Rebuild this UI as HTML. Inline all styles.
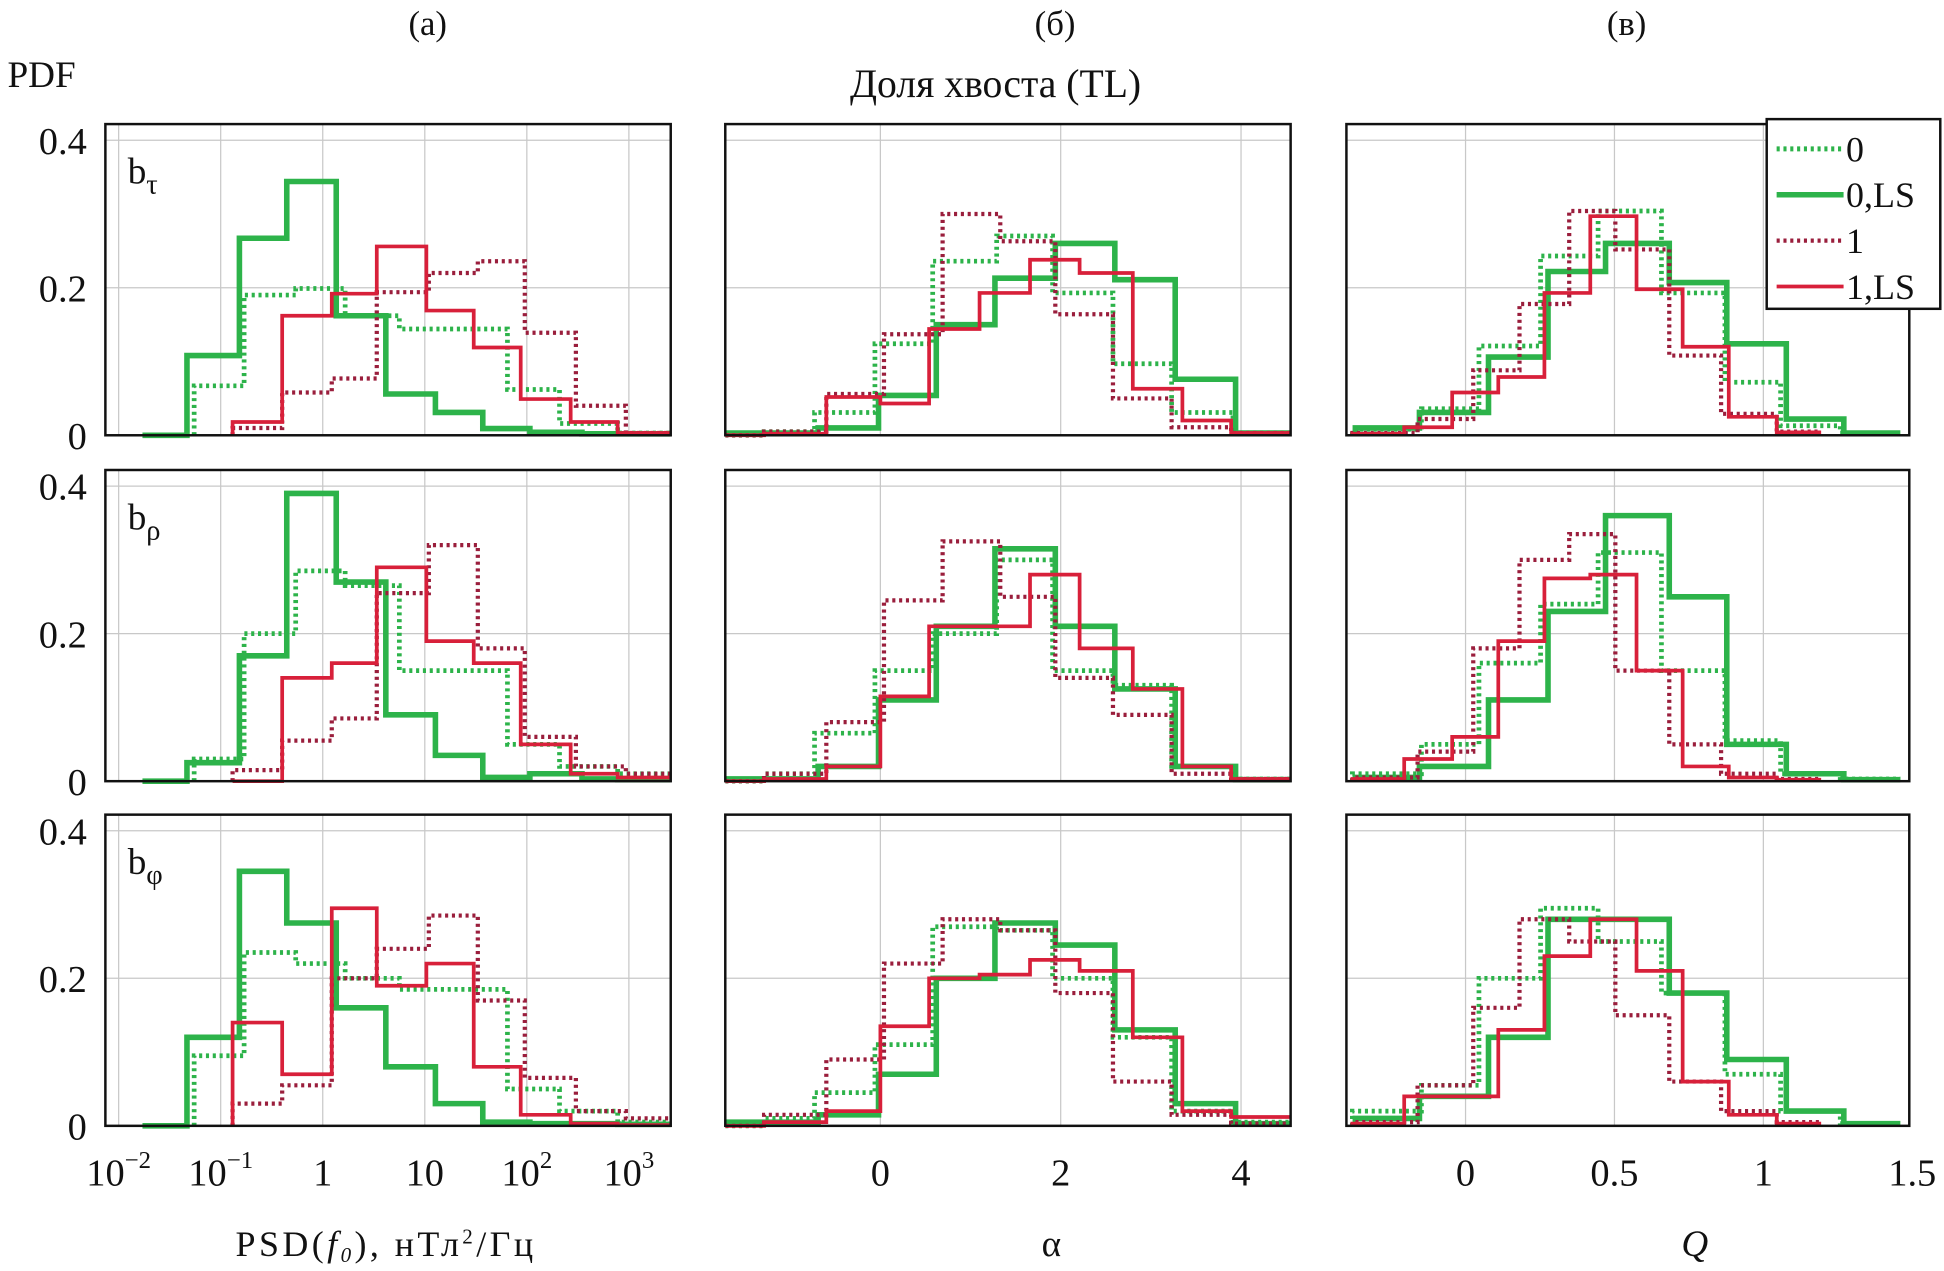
<!DOCTYPE html>
<html><head><meta charset="utf-8"><style>
html,body{margin:0;padding:0;background:#fff}
svg{display:block}
text{font-family:"Liberation Serif","DejaVu Serif",serif;fill:#111}
</style></head><body>
<svg id="chart" width="1944" height="1271" viewBox="0 0 1568 1025" xmlns="http://www.w3.org/2000/svg">
<text x="345" y="28" font-size="28" text-anchor="middle">(а)</text>
<text x="851" y="28" font-size="28" text-anchor="middle">(б)</text>
<text x="1312" y="28" font-size="28" text-anchor="middle">(в)</text>
<text x="6" y="70" font-size="30">PDF</text>
<text x="803" y="78" font-size="32" text-anchor="middle">Доля хвоста (TL)</text>
<text x="310" y="1013" font-size="29" text-anchor="middle" textLength="240" lengthAdjust="spacing">PSD(<tspan font-style="italic">f</tspan><tspan font-size="17" dy="5" font-style="italic">0</tspan><tspan dy="-5">), нТл</tspan><tspan font-size="17" dy="-10">2</tspan><tspan dy="10">/Гц</tspan></text>
<text x="848" y="1013" font-size="30" text-anchor="middle">α</text>
<text x="1367" y="1013" font-size="30" font-style="italic" text-anchor="middle">Q</text>
<g id="panels"></g>
<g id="legend">
<rect x="1425" y="96" width="140" height="153" fill="#fff" stroke="#111" stroke-width="2"/>
<line x1="1433" y1="120" x2="1487" y2="120" stroke="#2db34a" stroke-width="4" stroke-dasharray="2.5 3"/>
<text x="1489" y="130" font-size="29">0</text>
<line x1="1433" y1="157" x2="1487" y2="157" stroke="#2db34a" stroke-width="4.5"/>
<text x="1489" y="167" font-size="29">0,LS</text>
<line x1="1433" y1="194" x2="1487" y2="194" stroke="#9a1e3c" stroke-width="3.5" stroke-dasharray="2.5 3"/>
<text x="1489" y="204" font-size="29">1</text>
<line x1="1433" y1="231" x2="1487" y2="231" stroke="#d8203a" stroke-width="3"/>
<text x="1489" y="241" font-size="29">1,LS</text>
</g>
</svg>
<script>
// ---- data: bin edges (data units; log10 for PSD column) and PDF values ----
const aEdgesGS=[-1.767,-1.33,-0.817,-0.353,0.132,0.618,1.104,1.568,2.03,2.54,2.89,3.41];
const aEdgesGD=[-1.26,-0.77,-0.265,0.22,0.75,1.81,2.32,2.89,3.41];
const aEdgesRS=[-0.883,-0.398,0.088,0.53,1.016,1.48,1.94,2.43,2.89,3.42];
const aEdgesRD=[-0.883,-0.398,0.088,0.53,1.04,1.52,1.98,2.48,2.97,3.42];
const bEdgesGS=[-1.72,-0.69,-0.02,0.62,1.27,1.94,2.6,3.27,3.94,4.55];
const bEdgesGD=[-1.72,-1.29,-0.73,-0.06,0.58,1.29,1.91,2.58,3.23,3.91,4.55];
const bEdgesRS=[-1.72,-1.29,-0.6,0,0.54,1.1,1.66,2.21,2.8,3.35,3.89,4.55];
const bEdgesRD=[-1.72,-1.29,-0.6,0.04,0.69,1.33,1.94,2.58,3.23,3.89,4.55];
const cEdgesGS=[-0.37,-0.155,0.077,0.277,0.47,0.684,0.877,1.077,1.27,1.46];
const cEdgesGD=[-0.38,-0.148,0.045,0.252,0.445,0.658,0.871,1.058,1.258,1.46];
const cEdgesRS=[-0.38,-0.206,-0.045,0.11,0.265,0.419,0.574,0.729,0.884,1.045,1.194];
const cEdgesRD=[-0.38,-0.161,0.026,0.181,0.348,0.503,0.684,0.858,1.045,1.194];

const a1GS=[0,0.108,0.267,0.344,0.162,0.056,0.031,0.009,0.004,0.002,0.002];
const a1GD=[0.067,0.19,0.199,0.162,0.144,0.062,0.016,0.003];
const a1RS=[0.018,0.162,0.192,0.256,0.169,0.119,0.049,0.018,0.003];
const a1RD=[0.01,0.058,0.077,0.194,0.22,0.236,0.139,0.04,0.003];
const a2GS=[0,0.025,0.17,0.39,0.27,0.09,0.035,0.005,0.01,0.003,0.002];
const a2GD=[0.03,0.2,0.285,0.265,0.15,0.05,0.02,0.01];
const a2RS=[0,0.14,0.16,0.29,0.19,0.16,0.05,0.01,0.005];
const a2RD=[0.015,0.055,0.085,0.255,0.32,0.18,0.06,0.02,0.01];
const a3GS=[0,0.12,0.345,0.275,0.16,0.08,0.03,0.005,0.003,0.003,0.002];
const a3GD=[0.095,0.235,0.22,0.2,0.185,0.05,0.02,0.005];
const a3RS=[0.14,0.07,0.295,0.19,0.22,0.08,0.015,0.003,0.001];
const a3RD=[0.03,0.055,0.2,0.24,0.285,0.17,0.065,0.02,0.01];

const b1GS=[0.003,0.01,0.054,0.15,0.213,0.26,0.211,0.076,0.003];
const b1GD=[0,0.005,0.031,0.124,0.236,0.27,0.193,0.097,0.031,0.003];
const b1RS=[0,0.002,0.052,0.043,0.144,0.193,0.238,0.22,0.063,0.02,0.003];
const b1RD=[0,0.005,0.056,0.137,0.30,0.263,0.164,0.05,0.011,0.003];
const b2GS=[0.003,0.02,0.11,0.21,0.315,0.21,0.125,0.02,0.002];
const b2GD=[0,0.01,0.065,0.15,0.2,0.3,0.15,0.13,0.02,0.003];
const b2RS=[0,0.003,0.02,0.115,0.21,0.21,0.28,0.18,0.125,0.02,0.003];
const b2RD=[0,0.01,0.08,0.245,0.325,0.25,0.14,0.09,0.01,0.003];
const b3GS=[0.005,0.015,0.07,0.2,0.275,0.245,0.13,0.03,0.003];
const b3GD=[0,0.01,0.045,0.11,0.27,0.265,0.2,0.12,0.02,0.005];
const b3RS=[0,0.005,0.02,0.135,0.2,0.205,0.225,0.21,0.12,0.02,0.012];
const b3RD=[0,0.015,0.09,0.22,0.28,0.265,0.18,0.06,0.015,0.003];

const c1GS=[0.01,0.031,0.106,0.222,0.26,0.207,0.124,0.022,0.003];
const c1GD=[0.008,0.036,0.121,0.243,0.304,0.193,0.072,0.013,0.003];
const c1RS=[0.002,0.011,0.058,0.079,0.193,0.297,0.198,0.12,0.025,0.004];
const c1RD=[0.003,0.022,0.088,0.178,0.304,0.252,0.108,0.029,0.005];
const c2GS=[0.005,0.02,0.11,0.23,0.36,0.25,0.05,0.01,0.002];
const c2GD=[0.01,0.05,0.16,0.24,0.31,0.15,0.055,0.01,0.003];
const c2RS=[0.003,0.03,0.06,0.19,0.275,0.28,0.15,0.02,0.005,0.002];
const c2RD=[0.005,0.04,0.18,0.3,0.335,0.15,0.05,0.01,0.003];
const c3GS=[0.01,0.04,0.12,0.28,0.28,0.18,0.09,0.02,0.003];
const c3GD=[0.02,0.055,0.2,0.295,0.25,0.18,0.07,0.02,0.003];
const c3RS=[0.003,0.04,0.04,0.13,0.23,0.28,0.21,0.06,0.015,0.003];
const c3RD=[0.005,0.055,0.16,0.28,0.25,0.15,0.06,0.02,0.005];

const aTickVals=[-2,-1,0,1,2,3];
const aTickLabels=["10|−2","10|−1","1","10","10|2","10|3"];
const bTickVals=[0,2,4];
const bTickLabels=["0","2","4"];
const cTickVals=[0,0.5,1,1.5];
const cTickLabels=["0","0.5","1","1.5"];
const yTickVals=[0,0.2,0.4];
const yTickLabels=["0","0.2","0.4"];
const rowLabels=["τ","ρ","φ"];

// ---- layout ----
const NS="http://www.w3.org/2000/svg";
const cols=[
 {name:"a",x0:85,x1:541,d0:-2.13,d1:3.41,grid:[-2,-1,0,1,2,3],ticks:aTickVals,labels:aTickLabels,
  edges:[aEdgesGD,aEdgesGS,aEdgesRD,aEdgesRS],data:[[a1GD,a1GS,a1RD,a1RS],[a2GD,a2GS,a2RD,a2RS],[a3GD,a3GS,a3RD,a3RS]]},
 {name:"b",x0:585,x1:1041,d0:-1.72,d1:4.55,grid:[0,2,4],ticks:bTickVals,labels:bTickLabels,
  edges:[bEdgesGD,bEdgesGS,bEdgesRD,bEdgesRS],data:[[b1GD,b1GS,b1RD,b1RS],[b2GD,b2GS,b2RD,b2RS],[b3GD,b3GS,b3RD,b3RS]]},
 {name:"c",x0:1086,x1:1540,d0:-0.40,d1:1.49,grid:[0,0.5,1],ticks:cTickVals,labels:cTickLabels,
  edges:[cEdgesGD,cEdgesGS,cEdgesRD,cEdgesRS],data:[[c1GD,c1GS,c1RD,c1RS],[c2GD,c2GS,c2RD,c2RS],[c3GD,c3GS,c3RD,c3RS]]}
];
const rows=[{zero:351,top:100},{zero:630,top:379},{zero:908,top:657}];
const ypx=595; // px per unit PDF
const styles=[
 {name:"series-0",color:"#2db34a",w:3.8,dash:"2.5 3"},
 {name:"series-0-ls",color:"#2db34a",w:4.5,dash:null},
 {name:"series-1",color:"#9a1e3c",w:3.4,dash:"2.5 3"},
 {name:"series-1-ls",color:"#d8203a",w:3,dash:null}
];
const root=document.getElementById("panels");
function mk(tag,attrs,parent){const e=document.createElementNS(NS,tag);for(const k in attrs)e.setAttribute(k,attrs[k]);parent.appendChild(e);return e;}

cols.forEach((c,ci)=>{
 const xs=v=>c.x0+(v-c.d0)/(c.d1-c.d0)*(c.x1-c.x0);
 rows.forEach((r,ri)=>{
  const ys=v=>r.zero-v*ypx;
  const g=mk("g",{},root);
  
  
  mk("rect",{x:c.x0,y:r.top,width:c.x1-c.x0,height:r.zero-r.top,fill:"#fff"},g);
  c.grid.forEach(v=>{const gl=mk("line",{x1:xs(v),x2:xs(v),y1:r.top,y2:r.zero,stroke:"#c8c8c8","stroke-width":1},g);
   });
  [0.2,0.4].forEach(v=>{const gl=mk("line",{x1:c.x0,x2:c.x1,y1:ys(v),y2:ys(v),stroke:"#c8c8c8","stroke-width":1},g);
   });
  const clipId="clip"+ci+ri;
  const cp=mk("clipPath",{id:clipId},g);mk("rect",{x:c.x0,y:r.top,width:c.x1-c.x0,height:r.zero-r.top+3},cp);
  c.data[ri].forEach((vals,si)=>{
   const ed=c.edges[si];const st=styles[si];
   let d="M"+xs(ed[0]).toFixed(1)+","+ys(0).toFixed(1);
   vals.forEach((v,k)=>{d+=" L"+xs(ed[k]).toFixed(1)+","+ys(v).toFixed(1)+" L"+xs(ed[k+1]).toFixed(1)+","+ys(v).toFixed(1);});
   const p=mk("path",{d:d,fill:"none",stroke:st.color,"stroke-width":st.w,"clip-path":"url(#"+clipId+")"},g);
   if(st.dash)p.setAttribute("stroke-dasharray",st.dash);
   
   
  });
  mk("rect",{x:c.x0,y:r.top,width:c.x1-c.x0,height:r.zero-r.top,fill:"none",stroke:"#111","stroke-width":2},g);
  if(ci===0){
   yTickVals.forEach((v,k)=>{const t=mk("text",{x:70,y:ys(v)+11,"font-size":31,"text-anchor":"end"},g);t.textContent=yTickLabels[k];
    });
   const lb=mk("text",{x:103,y:r.top+48,"font-size":30},g);
   lb.textContent="b";const ts=mk("tspan",{"font-size":23,dy:8},lb);ts.textContent=rowLabels[ri];
   
  }
  if(ri===2){
   c.ticks.forEach((v,k)=>{
    const parts=c.labels[k].split("|");
    const t=mk("text",{x:xs(v),y:956,"font-size":31,"text-anchor":"middle"},g);
    t.textContent=parts[0];
    if(parts[1]){const s=mk("tspan",{"font-size":20,dy:-14},t);s.textContent=parts[1];}
    
   });
  }
 });
});
</script>
</body></html>
